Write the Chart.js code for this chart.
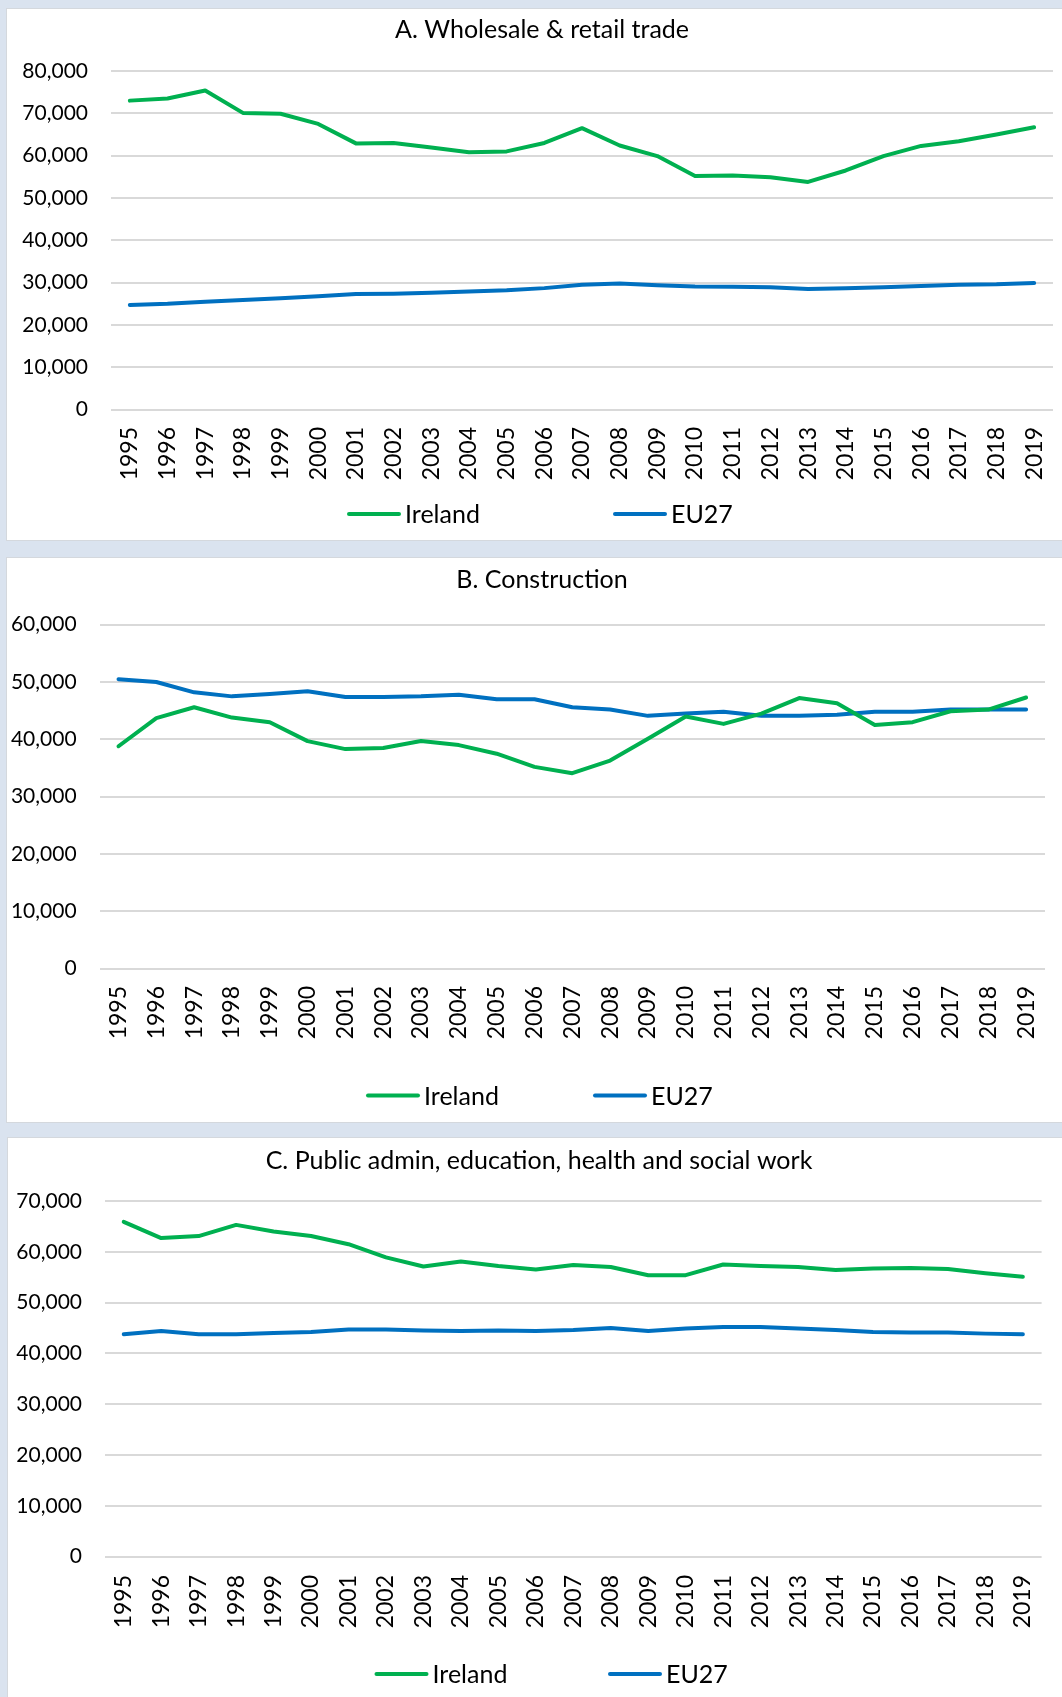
<!DOCTYPE html>
<html>
<head>
<meta charset="utf-8">
<script src="https://cdn.jsdelivr.net/npm/chart.js@4.4.1/dist/chart.umd.min.js"></script>
<style>
  body { margin: 0; width: 1062px; height: 1697px; background: #dae3ef; position: relative; overflow: hidden; }
  .panel { position: absolute; background: #fff; box-shadow: 0 0 0 1px #d4d8dd; }
  .panel canvas { display: block; }
</style>
</head>
<body>
<div class="panel" style="left:7px;top:9px;width:1055px;height:531px"><canvas id="chartA" width="1055" height="531"></canvas></div>
<div class="panel" style="left:7px;top:558px;width:1055px;height:564px"><canvas id="chartB" width="1055" height="564"></canvas></div>
<div class="panel" style="left:8px;top:1138px;width:1054px;height:559px"><canvas id="chartC" width="1054" height="559"></canvas></div>
<script>
// years on the category axis
const years = ['1995', '1996', '1997', '1998', '1999', '2000', '2001', '2002', '2003', '2004', '2005', '2006',
  '2007', '2008', '2009', '2010', '2011', '2012', '2013', '2014', '2015', '2016', '2017', '2018', '2019'];
const seriesNames = ['Ireland', 'EU27'];

// A. Wholesale & retail trade
const irelandTrade = [73000, 73500, 75400, 70100, 69900, 67500, 62900, 63000, 61900, 60800, 61000, 63000,
  66500, 62400, 59900, 55200, 55300, 54900, 53800, 56500, 59900, 62300, 63400, 65000, 66700];
const eu27Trade = [24700, 25000, 25500, 25900, 26300, 26800, 27300, 27400, 27600, 27900, 28200, 28700,
  29500, 29800, 29400, 29100, 29000, 28900, 28500, 28700, 28900, 29200, 29500, 29600, 29900];
const tradeTicks = [0, 80000, 10000];

// B. Construction
const irelandConstruction = [38800, 43700, 45600, 43800, 43000, 39700, 38300, 38500, 39700, 39000, 37500, 35200,
  34100, 36300, 40100, 44000, 42700, 44500, 47200, 46300, 42500, 43000, 44900, 45200, 47300];
const eu27Construction = [50500, 50000, 48200, 47500, 47900, 48400, 47400, 47400, 47500, 47800, 47000, 47000,
  45600, 45200, 44100, 44500, 44800, 44100, 44100, 44300, 44800, 44800, 45200, 45200, 45200];
const constructionTicks = [0, 60000, 10000];

// C. Public admin, education, health and social work
const irelandPublic = [65900, 62700, 63100, 65300, 64000, 63100, 61500, 58900, 57100, 58100, 57200, 56500,
  57400, 57000, 55400, 55400, 57500, 57200, 57000, 56400, 56700, 56800, 56600, 55800, 55100];
const eu27Public = [43800, 44400, 43800, 43800, 44000, 44200, 44700, 44700, 44500, 44400, 44500, 44400,
  44600, 45000, 44400, 44900, 45200, 45200, 44900, 44600, 44200, 44100, 44100, 43900, 43800];
const publicTicks = [0, 70000, 10000];

const GREEN = '#00b050';
const BLUE = '#0070c0';
const FONT = 'Lato, "Open Sans", sans-serif';

// panel title + Excel style line legend (line + label)
const panelText = {
  id: 'panelText',
  afterDraw(chart, args, opts) {
    const ctx = chart.ctx;
    ctx.save();
    ctx.fillStyle = '#000';
    ctx.textBaseline = 'middle';
    ctx.font = '25px ' + FONT;
    ctx.textAlign = 'center';
    ctx.fillText(opts.title.text, opts.title.x, opts.title.y);

    ctx.textAlign = 'left';
    const lg = opts.legend;
    chart.data.datasets.forEach((ds, i) => {
      const x = lg.x + i * lg.gap;
      ctx.strokeStyle = ds.borderColor;
      ctx.lineWidth = 4;
      ctx.lineCap = 'round';
      ctx.beginPath();
      ctx.moveTo(x + 2, lg.y);
      ctx.lineTo(x + lg.len - 2, lg.y);
      ctx.stroke();
      ctx.fillText(ds.label, x + lg.len + 4, lg.y + 1);
    });
    ctx.restore();
  }
};

function makeChart(id, p) {
  const canvas = document.getElementById(id);
  return new Chart(canvas, {
    type: 'line',
    data: {
      labels: years,
      datasets: [
        { label: seriesNames[0], data: p.ireland, borderColor: GREEN, backgroundColor: GREEN },
        { label: seriesNames[1], data: p.eu, borderColor: BLUE, backgroundColor: BLUE }
      ]
    },
    options: {
      responsive: false,
      animation: false,
      elements: {
        line: { borderWidth: 4, tension: 0, borderJoinStyle: 'round', borderCapStyle: 'round' },
        point: { radius: 0 }
      },
      layout: { padding: { left: 0, top: p.plotTop, right: p.padRight, bottom: 0 } },
      scales: {
        x: {
          offset: true,
          grid: { display: false, drawTicks: false },
          border: { display: false },
          ticks: {
            color: '#000',
            font: { family: FONT, size: 23 },
            minRotation: 90,
            maxRotation: 90,
            autoSkip: false,
            padding: p.xPad
          },
          afterFit(scale) {
            scale.height = p.xHeight;
            scale.paddingLeft = 0;
            scale.paddingRight = 0;
          }
        },
        y: {
          min: p.ticks[0],
          max: p.ticks[1],
          border: { display: false },
          grid: { color: '#d9d9d9', lineWidth: 2, drawTicks: false },
          ticks: {
            stepSize: p.ticks[2],
            color: '#000',
            font: { family: FONT, size: 21 },
            padding: 23,
            callback: v => v.toLocaleString('en-US')
          },
          afterFit(scale) { scale.width = p.plotLeft; }
        }
      },
      plugins: {
        legend: { display: false },
        tooltip: { enabled: false },
        title: { display: false },
        panelText: { title: p.title, legend: p.legend }
      }
    },
    plugins: [panelText]
  });
}

function drawAll() {
  makeChart('chartA', {
    title: { text: 'A. Wholesale & retail trade', x: 535, y: 21 },
    ireland: irelandTrade, eu: eu27Trade, ticks: tradeTicks,
    plotTop: 62, plotLeft: 104, xHeight: 130.4, xPad: 17.4, padRight: 9,
    legend: { x: 340, gap: 266, y: 505, len: 54 }
  });
  makeChart('chartB', {
    title: { text: 'B. Construction', x: 535, y: 22 },
    ireland: irelandConstruction, eu: eu27Construction, ticks: constructionTicks,
    plotTop: 66.7, plotLeft: 92.6, xHeight: 153.3, xPad: 17.3, padRight: 17,
    legend: { x: 359, gap: 227, y: 537.6, len: 54 }
  });
  makeChart('chartC', {
    title: { text: 'C. Public admin, education, health and social work', x: 531, y: 23 },
    ireland: irelandPublic, eu: eu27Public, ticks: publicTicks,
    plotTop: 63, plotLeft: 97, xHeight: 140.3, xPad: 18.3, padRight: 20.4,
    legend: { x: 366.5, gap: 233.5, y: 536, len: 54 }
  });
}

if (document.fonts && document.fonts.load) {
  document.fonts.load('21px Lato').then(drawAll, drawAll);
} else {
  drawAll();
}
</script>
</body>
</html>
